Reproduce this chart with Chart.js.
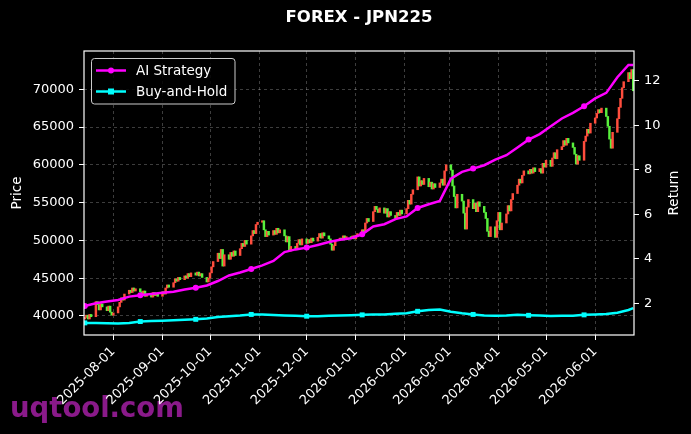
<!DOCTYPE html>
<html>
<head>
<meta charset="utf-8">
<script src="https://cdn.jsdelivr.net/npm/chart.js@4.4.1/dist/chart.umd.min.js"></script>
<style>
  html, body { margin: 0; padding: 0; background: #000; }
  canvas { display: block; }
</style>
</head>
<body>
<canvas id="chart" width="691" height="434"></canvas>
<script>
// FOREX - JPN225: daily candles (left axis) + strategy returns (right axis)

const startDate = '2025-07-14';
const firstOpen = 39600;

// daily closes, one row per trading week
const closes = [
  39800, 40100, 39600, 40200, 39900,
  41900, 41500, 40800, 41600, 41200,
  40700, 41300, 40500, 40100, 40400,
  41200, 41800, 42400, 42100, 42900,
  43400, 43100, 43700, 43300, 43600,
  43200, 42800, 43300, 42600, 42900,
  42500, 43100, 42700, 43000, 42600,
  43200, 42900, 43700, 44100, 43800,
  44400, 44900, 44600, 45100, 44800,
  45300, 45000, 45600, 45200, 45700,
  45400, 45800, 45300, 45600, 45100,
  44500, 45000, 45700, 46500, 47200,
  48300, 47600, 48800, 46600, 48100,
  47500, 48400, 47900, 48600, 48000,
  48900, 49600, 49200, 50000, 49500,
  50600, 51300, 50900, 52100, 52400,
  52600, 51400, 50500, 51200, 50700,
  51300, 50800, 51600, 51000, 51400,
  50600, 49800, 50500, 48600, 49200,
  48800, 49600, 50100, 49400, 50200,
  49600, 50100, 49700, 50300, 49900,
  50400, 50900, 50300, 51000, 50600,
  50200, 49500, 48700, 49300, 50000,
  50300, 50100, 50600, 50200, 50500,
  50300, 50600, 50200, 50700, 50900,
  51400, 51100, 52300, 52900, 52500,
  53800, 54500, 54100, 53700, 54300,
  53600, 54200, 53100, 53800, 53300,
  52900, 53700, 53300, 54000, 53500,
  54200, 55300, 54800, 56100, 56700,
  58400, 57200, 57900, 57400, 58200,
  57100, 57700, 56800, 57500, 57000,
  57600, 58100, 57300, 59200, 60000,
  59300, 57200, 55800, 54300, 56100,
  55200, 53600, 51500, 54400, 55400,
  54200, 54900, 53800, 55100, 54500,
  53700, 52900, 51200, 50500, 51800,
  50400, 52600, 53700, 51400, 52300,
  53500, 54600, 53900, 55400, 56200,
  57300, 58100, 57600, 58600, 59200,
  58800, 59400, 58900, 59600, 59100,
  59500, 58900, 60200, 59700, 60600,
  59800, 60900, 61600, 60800, 62000,
  62400, 63200, 62600, 63500, 62900,
  62300, 61400, 60100, 61200, 60600,
  63100, 63800, 64700, 64200, 65500,
  66200, 66800, 67300, 66900, 67500,
  66400, 65100, 63400, 62200, 64300,
  66100, 67600, 68800, 70200, 71000,
  72200, 71400, 72600, 69800
];

// weekly return readings (Mondays), last value at final day
const aiReturn = [
  1.88, 2.0, 2.08, 2.15, 2.3, 2.36, 2.42, 2.47, 2.52, 2.62,
  2.7, 2.8, 3.0, 3.25, 3.38, 3.54, 3.7, 3.9, 4.3, 4.42,
  4.5, 4.62, 4.75, 4.85, 4.92, 5.1, 5.45, 5.55, 5.78, 5.9,
  6.28, 6.45, 6.6, 7.6, 7.9, 8.05, 8.2, 8.45, 8.65, 9.0,
  9.35, 9.6, 9.95, 10.3, 10.55, 10.85, 11.2, 11.45, 12.15, 12.7,
  12.7
];
const bhReturn = [
  1.12, 1.12, 1.1, 1.09, 1.12, 1.18, 1.2, 1.22, 1.24, 1.26,
  1.28, 1.32, 1.38, 1.42, 1.45, 1.5, 1.5, 1.47, 1.45, 1.44,
  1.42, 1.42, 1.44, 1.45, 1.46, 1.48, 1.5, 1.5, 1.53, 1.55,
  1.64, 1.7, 1.72, 1.62, 1.55, 1.5, 1.45, 1.44, 1.45, 1.48,
  1.46, 1.45, 1.43, 1.44, 1.44, 1.48, 1.5, 1.52, 1.58, 1.7,
  1.78
];

const monthTicks = ['2025-08-01', '2025-09-01', '2025-10-01', '2025-11-01', '2025-12-01',
  '2026-01-01', '2026-02-01', '2026-03-01', '2026-04-01', '2026-05-01', '2026-06-01'];
const priceTicks = [40000, 45000, 50000, 55000, 60000, 65000, 70000];
const returnTicks = [2, 4, 6, 8, 10, 12];

const dayOf = s => (Date.parse(s) - Date.parse(startDate)) / 86400000;

// trading days (weekdays) from the start date
const tradeDays = [];
for (let d = 0; tradeDays.length < closes.length; d++) {
  const wd = new Date(Date.parse(startDate) + d * 86400000).getUTCDay();
  if (wd !== 0 && wd !== 6) tradeDays.push(d);
}
const lastDay = tradeDays[tradeDays.length - 1];

const candles = closes.map((c, i) => {
  const o = i === 0 ? firstOpen : closes[i - 1];
  return { x: tradeDays[i], y: [o, c] };
});
const candleColors = candles.map(p => p.y[1] >= p.y[0] ? '#ff4d3d' : '#58f03c');

const returnX = i => (i < aiReturn.length - 1 ? i * 7 : lastDay);
const aiPts = aiReturn.map((v, i) => ({ x: returnX(i), y: v }));
const bhPts = bhReturn.map((v, i) => ({ x: returnX(i), y: v }));
const monthDays = monthTicks.map(dayOf);

const FONT = 'DejaVu Sans';

const decor = {
  id: 'decor',
  beforeDraw(chart) {
    const ctx = chart.ctx;
    ctx.save();
    ctx.fillStyle = '#000';
    ctx.fillRect(0, 0, chart.width, chart.height);
    // watermark
    ctx.fillStyle = '#8a1a8a';
    ctx.font = 'bold 27.5px ' + FONT;
    ctx.textBaseline = 'alphabetic';
    ctx.textAlign = 'left';
    ctx.fillText('uqtool.com', 10, 417);
    ctx.restore();
  },
  afterDatasetsDraw(chart) {
    const ctx = chart.ctx;
    const a = chart.chartArea;
    ctx.save();
    ctx.strokeStyle = '#ffffff';
    ctx.lineWidth = 1.2;
    ctx.strokeRect(a.left, a.top, a.right - a.left, a.bottom - a.top);
    ctx.restore();
  },
  afterDraw(chart) {
    const ctx = chart.ctx;
    const a = chart.chartArea;
    ctx.save();
    ctx.fillStyle = '#ffffff';
    ctx.font = 'bold 16.5px ' + FONT;
    ctx.textAlign = 'center';
    ctx.textBaseline = 'middle';
    ctx.fillText('FOREX - JPN225', (a.left + a.right) / 2, 18);

    ctx.font = '13.5px ' + FONT;
    const midY = (a.top + a.bottom) / 2;
    ctx.save();
    ctx.translate(17, midY);
    ctx.rotate(-Math.PI / 2);
    ctx.fillText('Price', 0, 0);
    ctx.restore();
    ctx.save();
    ctx.translate(674, midY);
    ctx.rotate(-Math.PI / 2);
    ctx.fillText('Return', 0, 0);
    ctx.restore();

    // legend
    ctx.beginPath();
    ctx.roundRect(91.5, 58.5, 143.5, 45.5, 3);
    ctx.fillStyle = 'rgba(0,0,0,0.85)';
    ctx.fill();
    ctx.strokeStyle = '#cccccc';
    ctx.lineWidth = 1;
    ctx.stroke();
    const items = [
      { label: 'AI Strategy', color: '#ff00ff', y: 70.5, rect: false },
      { label: 'Buy-and-Hold', color: '#00ffff', y: 91.5, rect: true }
    ];
    items.forEach(it => {
      ctx.strokeStyle = it.color;
      ctx.lineWidth = 2.5;
      ctx.beginPath();
      ctx.moveTo(96, it.y);
      ctx.lineTo(126, it.y);
      ctx.stroke();
      ctx.fillStyle = it.color;
      if (it.rect) {
        ctx.fillRect(108, it.y - 3, 6, 6);
      } else {
        ctx.beginPath();
        ctx.arc(111, it.y, 3, 0, Math.PI * 2);
        ctx.fill();
      }
      ctx.fillStyle = '#ffffff';
      ctx.textAlign = 'left';
      ctx.textBaseline = 'middle';
      ctx.font = '13.5px ' + FONT;
      ctx.fillText(it.label, 136, it.y + 0.5);
    });
    ctx.restore();
  }
};

const gridColor = 'rgba(255,255,255,0.3)';
const tickFont = { family: FONT, size: 13 };

new Chart(document.getElementById('chart'), {
  type: 'bar',
  data: {
    datasets: [
      {
        type: 'bar',
        label: 'Price',
        data: candles,
        backgroundColor: candleColors,
        barThickness: 1.8,
        minBarLength: 1,
        grouped: false,
        yAxisID: 'y',
        order: 3
      },
      {
        type: 'line',
        label: 'AI Strategy',
        data: aiPts,
        borderColor: '#ff00ff',
        backgroundColor: '#ff00ff',
        borderWidth: 2.5,
        tension: 0,
        pointStyle: 'circle',
        pointRadius: c => (c.dataIndex % 5 === 0 && c.dataIndex < aiPts.length - 1 ? 3 : 0),
        pointBorderWidth: 0,
        yAxisID: 'yR',
        order: 2
      },
      {
        type: 'line',
        label: 'Buy-and-Hold',
        data: bhPts,
        borderColor: '#00ffff',
        backgroundColor: '#00ffff',
        borderWidth: 2.5,
        tension: 0,
        pointStyle: 'rect',
        pointRadius: c => (c.dataIndex % 5 === 0 && c.dataIndex < bhPts.length - 1 ? 3.5 : 0),
        pointBorderWidth: 0,
        yAxisID: 'yR',
        order: 1
      }
    ]
  },
  options: {
    responsive: false,
    animation: false,
    devicePixelRatio: 1,
    layout: { padding: { top: 51, left: 0, right: 0, bottom: 0 } },
    plugins: {
      legend: { display: false },
      title: { display: false },
      tooltip: { enabled: false }
    },
    scales: {
      x: {
        type: 'linear',
        min: -0.5,
        max: lastDay + 0.5,
        offset: false,
        afterBuildTicks: s => { s.ticks = monthDays.map(v => ({ value: v })); },
        afterFit: s => { s.height = 99; },
        ticks: {
          color: '#ffffff',
          font: tickFont,
          autoSkip: false,
          minRotation: 45,
          maxRotation: 45,
          padding: 4,
          callback: v => monthTicks[monthDays.indexOf(v)] || ''
        },
        grid: {
          offset: false,
          color: gridColor,
          lineWidth: 0.8,
          tickColor: '#ffffff',
          tickLength: 5,
          tickWidth: 1
        },
        border: { display: false, dash: [3, 3] }
      },
      y: {
        position: 'left',
        min: 37480,
        max: 75060,
        afterBuildTicks: s => { s.ticks = priceTicks.map(v => ({ value: v })); },
        afterFit: s => { s.width = 84; },
        ticks: { color: '#ffffff', font: tickFont, padding: 5, callback: v => String(v) },
        grid: {
          color: gridColor,
          lineWidth: 0.8,
          tickColor: '#ffffff',
          tickLength: 5,
          tickWidth: 1
        },
        border: { display: false, dash: [3, 3] }
      },
      yR: {
        position: 'right',
        min: 0.576,
        max: 13.33,
        afterBuildTicks: s => { s.ticks = returnTicks.map(v => ({ value: v })); },
        afterFit: s => { s.width = 57; },
        ticks: { color: '#ffffff', font: tickFont, padding: 5 },
        grid: {
          drawOnChartArea: false,
          tickColor: '#ffffff',
          tickLength: 5,
          tickWidth: 1
        },
        border: { display: false }
      }
    }
  },
  plugins: [decor]
});
</script>
</body>
</html>
